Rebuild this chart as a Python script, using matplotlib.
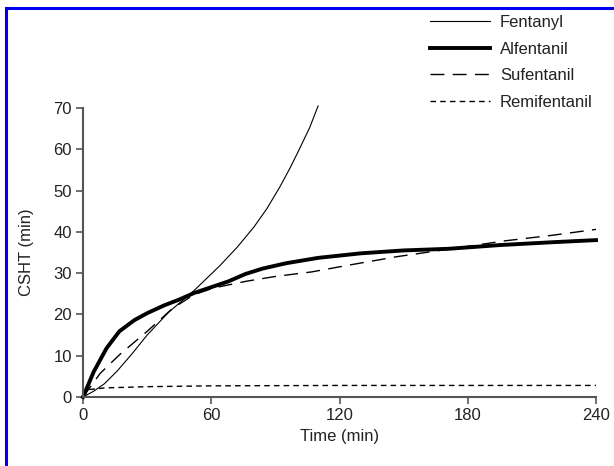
import numpy as np
import matplotlib
matplotlib.use('Agg')
import matplotlib.pyplot as plt
from matplotlib.lines import Line2D

plt.rcParams['font.family'] = ['Liberation Sans', 'DejaVu Sans']

# CSHT curves (time in min, CSHT in min)
fent_t = [0, 5, 10, 16, 23, 30, 40, 52, 64, 72, 80, 86, 92, 97, 101, 106, 110]
fent_y = [0, 1.4, 3.2, 6.3, 10.5, 15, 20.5, 25.8, 31.8, 36.2, 41.2, 45.6, 50.8, 55.6, 59.8, 65.2, 70.5]

alf_t = [0, 5, 11, 17, 24, 30, 38, 45, 52, 60, 68, 76, 84, 95, 110, 130, 150, 171, 195, 220, 240]
alf_y = [0, 6.1, 11.8, 15.9, 18.6, 20.3, 22.2, 23.6, 25.2, 26.6, 28, 29.8, 31.1, 32.4, 33.7, 34.8, 35.5, 35.9, 36.8, 37.5, 38]

suf_t = [0, 8, 17, 30, 42, 52, 61, 76, 90, 107, 125, 147, 171, 197, 220, 240]
suf_y = [0, 5.7, 10.2, 15.9, 21.5, 24.8, 26.4, 28, 29.2, 30.3, 32, 34, 35.8, 37.8, 39.2, 40.6]

remi_t = [0, 3, 10, 30, 60, 120, 180, 240]
remi_y = [0, 1.8, 2.2, 2.5, 2.7, 2.8, 2.8, 2.8]

x_ticks = [0, 60, 120, 180, 240]
y_ticks = [0, 10, 20, 30, 40, 50, 60, 70]

fig = plt.figure(figsize=(6.14, 4.66), dpi=100)
ax = fig.add_axes([83 / 614, 1 - 397 / 466, (596 - 83) / 614, (397 - 108) / 466])

ax.plot(fent_t, fent_y, color='k', lw=0.8, label='Fentanyl', clip_on=False)
ax.plot(alf_t, alf_y, color='k', lw=2.8, label='Alfentanil', clip_on=False)
ax.plot(suf_t, suf_y, color='k', lw=1.0, dashes=(10, 6), label='Sufentanil', clip_on=False)
ax.plot(remi_t, remi_y, color='k', lw=1.0, dashes=(4, 3), label='Remifentanil', clip_on=False)

ax.set_xlim(0, 240)
ax.set_ylim(0, 70)
ax.set_xticks(x_ticks)
ax.set_yticks(y_ticks)

for side in ['top', 'right']:
    ax.spines[side].set_visible(False)
for side in ['left', 'bottom']:
    ax.spines[side].set_color('#555555')
    ax.spines[side].set_linewidth(1.5)
ax.tick_params(direction='out', length=5, width=1.2, color='#555555',
               labelsize=12, pad=3, labelcolor='#222222')

ax.set_xlabel('Time (min)', fontsize=12, color='#222222', labelpad=4)
ax.set_ylabel('CSHT (min)', fontsize=12, color='#222222', labelpad=14)

fig.legend(loc='upper left', bbox_to_anchor=(415 / 614, 1.0),
           frameon=False, handlelength=3.6, handletextpad=0.6,
           labelspacing=0.7, fontsize=12, labelcolor='#222222')

# blue frame on the top and left edges
fig.add_artist(Line2D([6 / 614, 1], [1 - 8 / 466, 1 - 8 / 466], color='#0000ee', lw=2.2))
fig.add_artist(Line2D([6 / 614, 6 / 614], [0, 1 - 8 / 466], color='#0000ee', lw=2.2))

fig.savefig('out.png', dpi=100)
